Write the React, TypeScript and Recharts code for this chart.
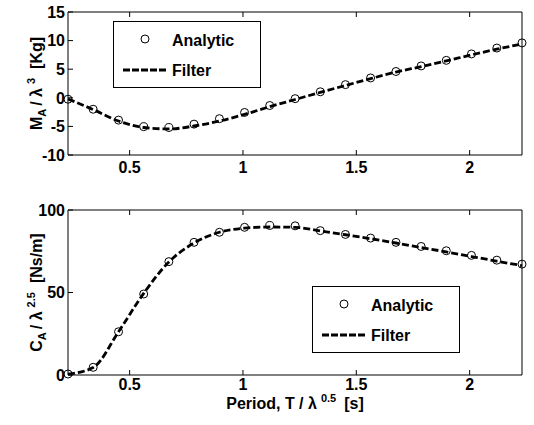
import React from 'react';
import { ComposedChart, Line, XAxis, YAxis, Legend } from 'recharts';

const FONT = '"Liberation Sans", Arial, Helvetica, sans-serif';

// Period, T / lambda^0.5 [s]
const periods = [0.228, 0.339, 0.451, 0.562, 0.673, 0.784, 0.896, 1.007, 1.118, 1.23, 1.341, 1.452, 1.563, 1.675, 1.786, 1.897, 2.008, 2.12, 2.231];
// Added mass M_A / lambda^3 [Kg]
const addedMassAnalytic = [-0.25, -2.0, -3.9, -5.05, -5.2, -4.6, -3.65, -2.56, -1.35, -0.15, 1.05, 2.3, 3.47, 4.6, 5.57, 6.55, 7.67, 8.7, 9.6];
const addedMassFilter = [-0.21, -2.05, -4.06, -5.19, -5.45, -4.93, -4.06, -2.9, -1.55, -0.3, 0.95, 2.15, 3.35, 4.5, 5.45, 6.45, 7.5, 8.5, 9.4];
// Damping C_A / lambda^2.5 [Ns/m]
const dampingAnalytic = [0.6, 4.65, 26.2, 49.1, 68.7, 80.4, 86.5, 89.5, 90.6, 90.4, 87.5, 85.2, 83.0, 80.4, 77.9, 75.3, 72.5, 69.6, 67.2];
const dampingFilter = [0.5, 4.5, 26.2, 49.5, 68.5, 80.0, 86.5, 89.0, 89.7, 89.5, 87.3, 85.0, 82.6, 80.0, 77.3, 74.6, 71.8, 69.0, 66.3];

const periodTicks = [0.5, 1, 1.5, 2];
const addedMassTicks = [-10, -5, 0, 5, 10, 15];
const dampingTicks = [0, 50, 100];
const periodDomain: [number, number] = [0.228, 2.231];
const addedMassDomain: [number, number] = [-10, 15];
const dampingDomain: [number, number] = [0, 100];

const addedMassRows = periods.map((t, i) => ({ t, analytic: addedMassAnalytic[i], filter: addedMassFilter[i] }));
const dampingRows = periods.map((t, i) => ({ t, analytic: dampingAnalytic[i], filter: dampingFilter[i] }));

const TICK = 5;
const textStyle = { fontFamily: FONT, fontWeight: 'bold' as const, fontSize: 16, fill: '#000' };

type Side = 'bottom' | 'top' | 'left' | 'right';

function makeTick(side: Side, withLabel: boolean, labelOffset = 18) {
  return function TickMark(props: any) {
    const { x, y, payload } = props;
    const v = payload ? payload.value : '';
    let x2 = x;
    let y2 = y;
    if (side === 'bottom') y2 = y - TICK;
    if (side === 'top') y2 = y + TICK;
    if (side === 'left') x2 = x + TICK;
    if (side === 'right') x2 = x - TICK;
    return (
      <g>
        <line x1={x} y1={y} x2={x2} y2={y2} stroke="#000" strokeWidth={1} />
        {withLabel && side === 'bottom' && (
          <text x={x} y={y + labelOffset} textAnchor="middle" style={textStyle}>{String(v)}</text>
        )}
        {withLabel && side === 'left' && (
          <text x={x - 3} y={y} dy="0.36em" textAnchor="end" style={textStyle}>{String(v)}</text>
        )}
      </g>
    );
  };
}

function LegendBox(props: any) {
  const payload: any[] = props.payload || [];
  const circleEntry = payload.find((e) => e.type === 'circle');
  const lineEntry = payload.find((e) => e.type !== 'circle');
  return (
    <svg width={148} height={67} style={{ display: 'block' }}>
      <rect x={0.5} y={0.5} width={147} height={66} fill="#fff" stroke="#000" strokeWidth={1} />
      <circle cx={32} cy={18} r={4} fill="none" stroke="#000" strokeWidth={1} />
      <text x={59} y={24.5} style={textStyle}>{circleEntry ? circleEntry.value : 'Analytic'}</text>
      <line x1={10} y1={49} x2={55} y2={49} stroke="#000" strokeWidth={2.8} strokeDasharray="7 2" />
      <text x={59} y={54.5} style={textStyle}>{lineEntry ? lineEntry.value : 'Filter'}</text>
    </svg>
  );
}

function YLabel({ cx, cy, main, sub, sup, unit }: { cx: number; cy: number; main: string; sub: string; sup: string; unit: string }) {
  return (
    <text x={cx} y={cy} textAnchor="middle" transform={`rotate(-90 ${cx} ${cy})`} style={textStyle}>
      <tspan>{main}</tspan>
      <tspan fontSize={11} dy={4}>{sub}</tspan>
      <tspan dy={-4} dx={3}>{'/ λ'}</tspan>
      <tspan fontSize={11} dy={-7} dx={4}>{sup}</tspan>
      <tspan dy={7} dx={9}>{unit}</tspan>
    </text>
  );
}

function XLabel({ cx, cy }: { cx: number; cy: number }) {
  return (
    <text x={cx} y={cy} textAnchor="middle" style={textStyle}>
      <tspan>{'Period, T / λ'}</tspan>
      <tspan fontSize={11} dy={-7} dx={4}>0.5</tspan>
      <tspan dy={7} dx={8}>[s]</tspan>
    </text>
  );
}

function Panel({ rows, yDomain, yTicks, height, margin, legendPos, yLabel, showXLabel, tickLabelOffset }: any) {
  return (
    <ComposedChart width={534} height={height} data={rows} margin={margin}>
      <XAxis
        xAxisId="b"
        dataKey="t"
        type="number"
        orientation="bottom"
        domain={periodDomain}
        ticks={periodTicks}
        height={1}
        tickSize={0}
        tickMargin={0}
        tickLine={false}
        interval={0}
        axisLine={{ stroke: '#000', strokeWidth: 1 }}
        tick={makeTick('bottom', true, tickLabelOffset)}
        label={
          showXLabel
            ? (p: any) => {
                const vb = p.viewBox || { x: 68, y: 180, width: 454 };
                return <XLabel cx={vb.x + vb.width / 2} cy={vb.y + 34} />;
              }
            : undefined
        }
      />
      <XAxis
        xAxisId="t"
        dataKey="t"
        type="number"
        orientation="top"
        domain={periodDomain}
        ticks={periodTicks}
        height={1}
        tickSize={0}
        tickMargin={0}
        tickLine={false}
        interval={0}
        axisLine={{ stroke: '#000', strokeWidth: 1 }}
        tick={makeTick('top', false)}
      />
      <YAxis
        yAxisId="l"
        type="number"
        orientation="left"
        domain={yDomain}
        ticks={yTicks}
        width={1}
        tickSize={0}
        tickMargin={0}
        tickLine={false}
        interval={0}
        axisLine={{ stroke: '#000', strokeWidth: 1 }}
        tick={makeTick('left', true)}
        label={(p: any) => {
          const vb = p.viewBox || { x: 67, y: 12, width: 1, height: 143 };
          return <YLabel cx={vb.x - 25} cy={vb.y + vb.height / 2} {...yLabel} />;
        }}
      />
      <YAxis
        yAxisId="r"
        type="number"
        orientation="right"
        domain={yDomain}
        ticks={yTicks}
        width={1}
        tickSize={0}
        tickMargin={0}
        tickLine={false}
        interval={0}
        axisLine={{ stroke: '#000', strokeWidth: 1 }}
        tick={makeTick('right', false)}
      />
      <Line
        xAxisId="b"
        yAxisId="l"
        name="Analytic"
        dataKey="analytic"
        stroke="none"
        legendType="circle"
        dot={{ r: 4, fill: 'none', stroke: '#000', strokeWidth: 1 }}
        activeDot={false}
        isAnimationActive={false}
      />
      <Line
        xAxisId="b"
        yAxisId="l"
        name="Filter"
        dataKey="filter"
        type="monotone"
        stroke="#000"
        strokeWidth={2.8}
        strokeDasharray="7 3"
        legendType="line"
        dot={false}
        activeDot={false}
        isAnimationActive={false}
      />
      <Legend
        layout="vertical"
        align="center"
        verticalAlign="middle"
        wrapperStyle={{ position: 'absolute', left: legendPos.left, top: legendPos.top, width: 148, height: 67 }}
        content={(p: any) => <LegendBox {...p} />}
      />
    </ComposedChart>
  );
}

export default function App() {
  return (
    <div style={{ position: 'absolute', left: 0, top: 0, width: 534, height: 425, background: '#fff', overflow: 'hidden' }}>
      <div style={{ position: 'absolute', left: 0, top: 0 }}>
        <Panel
          rows={addedMassRows}
          yDomain={addedMassDomain}
          yTicks={addedMassTicks}
          height={190}
          margin={{ top: 11, right: 11, bottom: 34, left: 67 }}
          legendPos={{ left: 113, top: 21 }}
          yLabel={{ main: 'M', sub: 'A', sup: '3', unit: '[Kg]' }}
          showXLabel={false}
          tickLabelOffset={18}
        />
      </div>
      <div style={{ position: 'absolute', left: 0, top: 195 }}>
        <Panel
          rows={dampingRows}
          yDomain={dampingDomain}
          yTicks={dampingTicks}
          height={230}
          margin={{ top: 14, right: 11, bottom: 49, left: 67 }}
          legendPos={{ left: 312, top: 91 }}
          yLabel={{ main: 'C', sub: 'A', sup: '2.5', unit: '[Ns/m]' }}
          showXLabel={true}
          tickLabelOffset={15}
        />
      </div>
    </div>
  );
}
